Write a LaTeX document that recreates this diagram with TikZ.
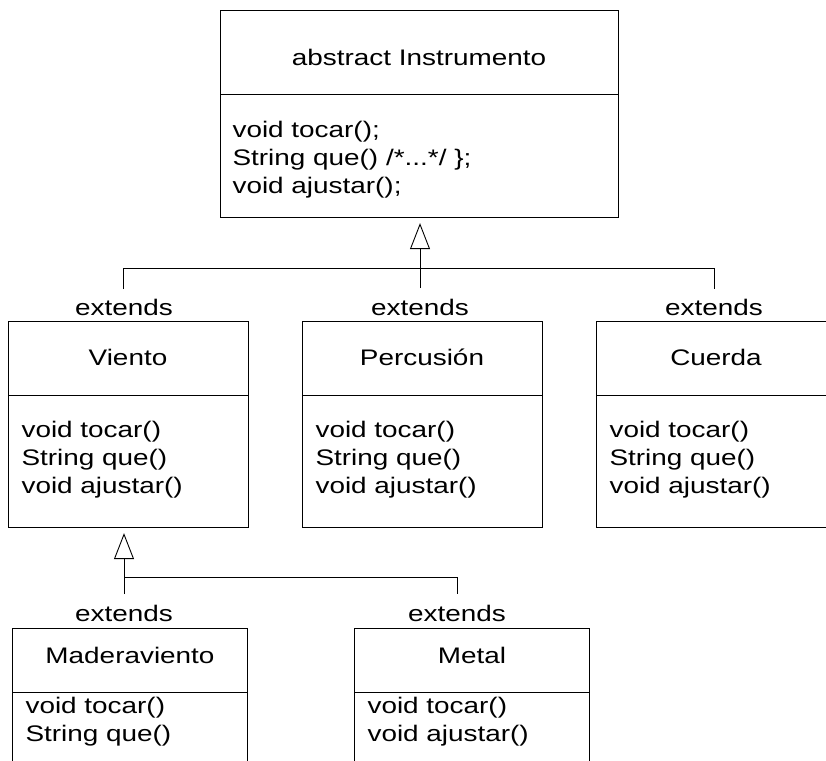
\documentclass[tikz,border=0pt]{standalone}
\usepackage{fontspec}
\setmainfont{Liberation Sans}[FakeStretch=1.24]
\usetikzlibrary{arrows.meta}
\begin{document}
\begin{tikzpicture}[x=1pt,y=-1pt, line width=1.1pt,
  comp/.style={draw, rectangle, inner sep=0pt, anchor=north west},
  ttl/.style={inner sep=0pt, font=\fontsize{22.5}{28}\selectfont},
  meth/.style={inner sep=0pt, anchor=west, align=left, font=\fontsize{22.5}{28}\selectfont},
  ext/.style={inner sep=0pt, font=\fontsize{22.5}{28}\selectfont},
  conn/.style={line width=0.9pt},
  gen/.style={conn, -{Triangle[open,length=26pt,width=20pt]}, shorten >=5pt}]
\useasboundingbox (0,0) rectangle (826,760);
\clip (0,0) rectangle (826,760);
% abstract Instrumento
\node[comp, minimum width=398pt, minimum height=84pt] (Ihead) at (220,10) {};
\node[comp, minimum width=398pt, minimum height=123pt] (Ibody) at (220,94) {};
\node[ttl] (Ititle) at (419,57) {abstract Instrumento};
\node[meth] (Imeth) at (232,160) {void tocar();\\String que() /*...*/ \};\\void ajustar();};
% Viento
\node[comp, minimum width=240pt, minimum height=74pt] (Vhead) at (8,321) {};
\node[comp, minimum width=240pt, minimum height=132pt] (Vbody) at (8,395) {};
\node[ttl] (Vtitle) at (128,357) {Viento};
\node[meth] (Vmeth) at (21,460) {void tocar()\\String que()\\void ajustar()};
% Percusion
\node[comp, minimum width=240pt, minimum height=74pt] (Phead) at (302,321) {};
\node[comp, minimum width=240pt, minimum height=132pt] (Pbody) at (302,395) {};
\node[ttl] (Ptitle) at (422,357) {Percusión};
\node[meth] (Pmeth) at (315,460) {void tocar()\\String que()\\void ajustar()};
% Cuerda
\node[comp, minimum width=240pt, minimum height=74pt] (Chead) at (596,321) {};
\node[comp, minimum width=240pt, minimum height=132pt] (Cbody) at (596,395) {};
\node[ttl] (Ctitle) at (716,357) {Cuerda};
\node[meth] (Cmeth) at (609,460) {void tocar()\\String que()\\void ajustar()};
% Maderaviento
\node[comp, minimum width=235pt, minimum height=64pt] (Mhead) at (12,628) {};
\node[comp, minimum width=235pt, minimum height=80pt] (Mbody) at (12,692) {};
\node[ttl] (Mtitle) at (130,655) {Maderaviento};
\node[meth] (Mmeth) at (25,721.5) {void tocar()\\String que()};
% Metal
\node[comp, minimum width=235pt, minimum height=64pt] (Thead) at (354,628) {};
\node[comp, minimum width=235pt, minimum height=80pt] (Tbody) at (354,692) {};
\node[ttl] (Ttitle) at (472,655) {Metal};
\node[meth] (Tmeth) at (367,721.5) {void tocar()\\void ajustar()};
% extends labels
\node[ext] (e1) at (124,307) {extends};
\node[ext] (e2) at (420,307) {extends};
\node[ext] (e3) at (714,307) {extends};
\node[ext] (e4) at (124,613) {extends};
\node[ext] (e5) at (457,613) {extends};
% connectors, first level
\coordinate (a1) at (123,289);
\coordinate (a2) at (420,288);
\coordinate (a3) at (714,289);
\coordinate (j1) at (123,268);
\coordinate (j3) at (714,268);
\draw[conn] (a1) -- (j1) -- (j3) -- (a3);
\draw[gen] (a2) -- (a2 |- Ibody.south);
% connectors, second level
\coordinate (b1) at (124,594);
\coordinate (b2) at (457,594);
\coordinate (k1) at (124,577);
\coordinate (k2) at (457,577);
\draw[conn] (k1) -- (k2) -- (b2);
\draw[gen] (b1) -- (b1 |- Vbody.south);
\end{tikzpicture}
\end{document}
